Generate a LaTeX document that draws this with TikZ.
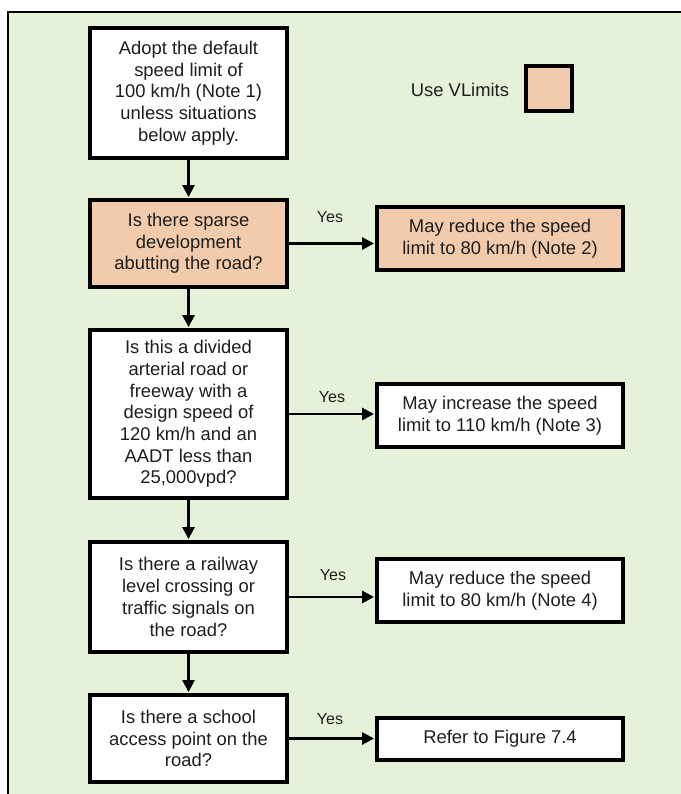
\documentclass[tikz,border=0pt]{standalone}
\usepackage{fontspec}
\setmainfont{Liberation Sans}
\usetikzlibrary{arrows.meta}
\usepackage{xcolor}
\definecolor{panelgreen}{HTML}{E5F1D9}
\definecolor{vlorange}{HTML}{F1CBAB}
\definecolor{inkgray}{HTML}{1E1E1E}

\begin{document}
\begin{tikzpicture}[x=0.75pt,y=-0.75pt,
    qbox/.style={shape=rectangle,
      draw=black,
      line width=2.4pt,
      fill=white,
      text=inkgray,
      align=center,
      inner sep=0pt,
      minimum width=147.75pt,
      font=\fontsize{13.8}{16.3}\selectfont},
    rbox/.style={qbox,
      minimum width=184.5pt,
      minimum height=47.25pt},
    yeslabel/.style={text=inkgray,
      inner sep=0pt,
      font=\fontsize{12}{14}\selectfont},
    flow/.style={-{Triangle[length=9pt,width=9pt]},
      line width=2pt,
      shorten >=1pt}]
      %\draw[help lines] (0,0) grid[step=50] (681,794); % Only for Development

      \useasboundingbox (0,0) rectangle (681,794);
      \fill[panelgreen] (8,12) rectangle (681,794);
      \draw[line width=1.2pt] (681,12) -- (8,12) -- (8,794);

      \node[qbox,
        minimum height = 97.5pt] (start) at (188.5,93)
        {Adopt the default\\speed limit of\\100 km/h (Note 1)\\unless situations\\below apply.};

      \node[yeslabel,
        font=\fontsize{13.8}{16.3}\selectfont] (vltext) at (460,90) {Use VLimits};
      \node[shape=rectangle,
        draw=black,
        line width=2.4pt,
        fill=vlorange,
        minimum width = 34.5pt,
        minimum height = 33.75pt] (vlswatch) at (549,88.5) {};

      \node[qbox,
        fill=vlorange,
        minimum height = 65.25pt] (sparse) at (188.5,243.5)
        {Is there sparse\\development\\abutting the road?};
      \node[rbox,
        fill=vlorange] (reduce80a) at (500,238.5)
        {May reduce the speed\\limit to 80 km/h (Note 2)};

      \node[qbox,
        minimum height = 126pt] (divided) at (188.5,414)
        {Is this a divided\\arterial road or\\freeway with a\\design speed of\\120 km/h and an\\AADT less than\\25,000vpd?};
      \node[rbox] (increase110) at (500,415.5)
        {May increase the speed\\limit to 110 km/h (Note 3)};

      \node[qbox,
        minimum height = 82.5pt] (railway) at (188.5,597)
        {Is there a railway\\level crossing or\\traffic signals on\\the road?};
      \node[rbox] (reduce80b) at (500,590.5)
        {May reduce the speed\\limit to 80 km/h (Note 4)};

      \node[qbox,
        minimum height = 65.25pt] (school) at (188.5,738.5)
        {Is there a school\\access point on the\\road?};
      \node[rbox,
        minimum height = 31.5pt] (figure) at (500,739)
        {Refer to Figure 7.4};

      \draw[flow] (start.south) -- (sparse.north);
      \draw[flow] (sparse.south) -- (divided.north);
      \draw[flow] (divided.south) -- (railway.north);
      \draw[flow] (railway.south) -- (school.north);

      \draw[flow] (sparse.east) -- (reduce80a.west |- sparse.east);
      \draw[flow] (divided.east) -- (increase110.west |- divided.east);
      \draw[flow] (railway.east) -- (reduce80b.west |- railway.east);
      \draw[flow] (school.east) -- (figure.west |- school.east);

      \node[yeslabel] (yes1) at (330,217) {Yes};
      \node[yeslabel] (yes2) at (332,397) {Yes};
      \node[yeslabel] (yes3) at (333,575) {Yes};
      \node[yeslabel] (yes4) at (330,719) {Yes};

    \end{tikzpicture}
\end{document}
